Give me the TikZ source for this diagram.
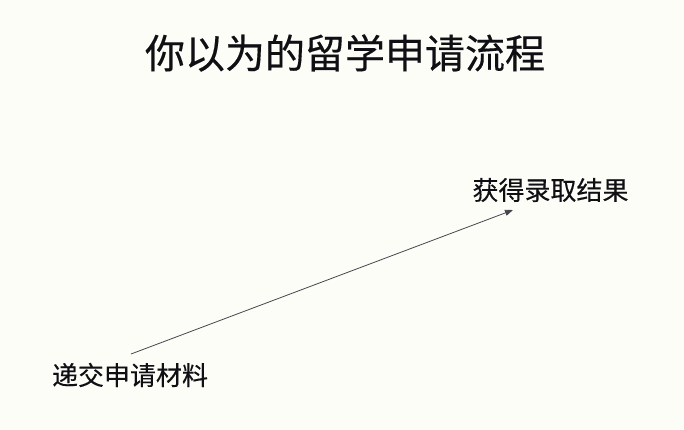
\documentclass[tikz,border=0pt]{standalone}
\usepackage{fontspec}
\newfontfamily\cjk[FakeBold=0.3]{Noto Sans CJK SC}
\usetikzlibrary{arrows.meta}
\definecolor{bg}{RGB}{253,253,248}
\definecolor{ink}{RGB}{15,15,20}
\definecolor{arrowc}{RGB}{70,70,80}
\tikzset{
  titletext/.style={font=\cjk\fontsize{40}{48}\selectfont, text=ink, inner sep=0pt},
  labeltext/.style={font=\cjk\fontsize{26}{31}\selectfont, text=ink, inner sep=0pt},
  flowarrow/.style={draw=arrowc, line width=0.8pt, -{Triangle[length=8pt,width=6pt]}}
}
\begin{document}
\begin{tikzpicture}[x=1pt,y=1pt]
\fill[bg] (0,0) rectangle (684,429);
\useasboundingbox (0,0) rectangle (684,429);
\node[titletext] (title) at (345,376) {你以为的留学申请流程};
\node[labeltext] (result) at (550.5,239) {获得录取结果};
\node[labeltext] (submit) at (130,54) {递交申请材料};
\coordinate (start) at (131,75);
\coordinate (end) at (513,219);
\draw[flowarrow] (start) -- (end);
\end{tikzpicture}
\end{document}
